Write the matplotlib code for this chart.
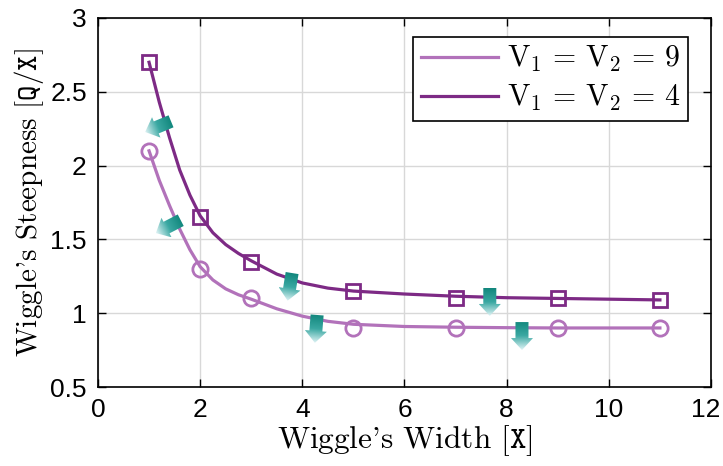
import numpy as np
import matplotlib
matplotlib.use("Agg")
from matplotlib import pyplot as plt
from matplotlib.patches import Polygon
from matplotlib.colors import LinearSegmentedColormap
import matplotlib.transforms as mtransforms

plt.rcParams['font.family'] = ['Liberation Sans', 'DejaVu Sans']
plt.rcParams['mathtext.fontset'] = 'cm'

# measured points
pts_x = [1, 2, 3, 5, 7, 9, 11]
v9_y = [2.10, 1.30, 1.10, 0.90, 0.90, 0.90, 0.90]
v4_y = [2.70, 1.65, 1.35, 1.15, 1.10, 1.10, 1.09]

# fitted curves
fit_x = [1.0, 1.2, 1.4, 1.6, 1.8, 2.0, 2.25, 2.5, 2.75, 3.0, 3.5, 4.0, 4.5, 5.0, 6.0, 7.0, 8.0, 9.0, 10.0, 11.0]
fit_v9 = [2.10, 1.90, 1.73, 1.57, 1.43, 1.315, 1.225, 1.165, 1.125, 1.095, 1.03, 0.98, 0.945, 0.925,
          0.91, 0.905, 0.902, 0.90, 0.90, 0.90]
fit_v4 = [2.70, 2.43, 2.19, 1.97, 1.80, 1.66, 1.545, 1.465, 1.405, 1.355, 1.265, 1.205, 1.17, 1.15,
          1.13, 1.115, 1.105, 1.10, 1.095, 1.09]

# arrows: tail position (data) and direction in pixels (dx right, dy down)
arrow_x = [1.43, 1.62, 3.80, 4.29, 7.67, 8.30]
arrow_y = [2.30, 1.63, 1.272, 0.988, 1.171, 0.94]
arrow_dir = [(-0.92, 0.38), (-0.89, 0.46), (-0.16, 0.99), (-0.08, 1.0), (0.0, 1.0), (0.0, 1.0)]

xticks = [0, 2, 4, 6, 8, 10, 12]
yticks = [0.5, 1, 1.5, 2, 2.5, 3]
ytick_labels = ['0.5', '1', '1.5', '2', '2.5', '3']

c_light = '#b272ba'
c_dark = '#7d2a85'

fig = plt.figure(figsize=(7.23, 4.66), dpi=100)
ax = fig.add_axes([0.1355, 0.1695, 0.8479, 0.7919])

ax.plot(fit_x, fit_v9, color=c_light, lw=2.3, label=r'$\mathrm{V}_1 \,=\, \mathrm{V}_2 \,=\, 9$', zorder=3)
ax.plot(fit_x, fit_v4, color=c_dark, lw=2.3, label=r'$\mathrm{V}_1 \,=\, \mathrm{V}_2 \,=\, 4$', zorder=3)
ax.plot(pts_x, v9_y, 'o', ms=11, mfc='none', mec=c_light, mew=2.0, zorder=4)
ax.plot(pts_x, v4_y, 's', ms=10.5, mfc='none', mec=c_dark, mew=2.0, zorder=4)

ax.set_xlim(0, 12)
ax.set_ylim(0.5, 3)
fig.canvas.draw()

# gradient arrows
cmap = LinearSegmentedColormap.from_list('tl', ['#12877d', '#3aa8a2', '#dff3f5'])
L, sw, hw, hl = 28.0, 13.0, 22.0, 12.0
inv = ax.transData.inverted()
for x0, y0, (dx, dy) in zip(arrow_x, arrow_y, arrow_dir):
    n = np.hypot(dx, dy)
    u = np.array([dx, -dy]) / n      # display coords, y up
    v = np.array([-u[1], u[0]])
    t0 = ax.transData.transform((x0, y0))
    local = [(0, sw / 2), (L - hl, sw / 2), (L - hl, hw / 2), (L, 0),
             (L - hl, -hw / 2), (L - hl, -sw / 2), (0, -sw / 2)]
    disp = np.array([t0 + a * u + b * v for a, b in local])
    dat = inv.transform(disp)
    poly = Polygon(dat, closed=True, fc='none', ec='none', transform=ax.transData)
    ax.add_patch(poly)
    xmin, ymin = dat.min(axis=0)
    xmax, ymax = dat.max(axis=0)
    gx, gy = np.meshgrid(np.linspace(xmin, xmax, 60), np.linspace(ymin, ymax, 60))
    g = ax.transData.transform(np.c_[gx.ravel(), gy.ravel()])
    tt = np.clip(((g - t0) @ u) / L, 0, 1).reshape(gx.shape)
    im = ax.imshow(tt, cmap=cmap, vmin=0, vmax=1, origin='lower', extent=(xmin, xmax, ymin, ymax),
                   aspect='auto', interpolation='bilinear', zorder=3.5)
    im.set_clip_path(poly)

ax.set_xlim(0, 12)
ax.set_ylim(0.5, 3)
ax.set_xticks(xticks)
ax.set_yticks(yticks)
ax.set_yticklabels(ytick_labels)
ax.tick_params(direction='in', length=6, width=1, labelsize=19, top=True, right=True, pad=8)
ax.grid(True, color='#d8d8d8', lw=1.0)
ax.set_axisbelow(True)
for s in ax.spines.values():
    s.set_linewidth(1.2)

# nudge the last x tick label so it stays inside the figure
lab = ax.get_xticklabels()[-1]
lab.set_transform(lab.get_transform() + mtransforms.ScaledTranslation(-4 / 72, 0, fig.dpi_scale_trans))

ax.set_xlabel(r"Wiggle's Width [$\mathtt{X}$]", fontfamily='cmr10', fontsize=22.5, labelpad=1)
ax.set_ylabel(r"Wiggle's Steepness [$\mathtt{Q/X}$]", fontfamily='cmr10', fontsize=21, labelpad=3)

leg = ax.legend(loc='upper right', bbox_to_anchor=(0.9625, 0.949), borderaxespad=0, fontsize=21.5,
                fancybox=False, edgecolor='black', framealpha=1, handlelength=2.6,
                handletextpad=0.3, labelspacing=0.3, borderpad=0.25)
leg.get_frame().set_linewidth(1.2)

fig.savefig('out.png', dpi=100)
